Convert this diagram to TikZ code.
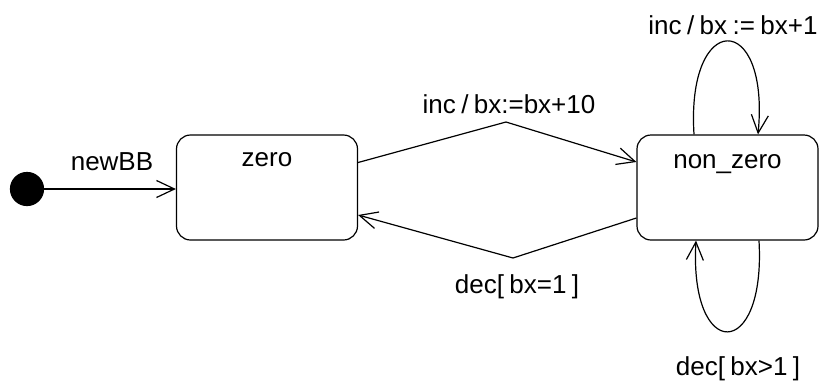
\documentclass[tikz,border=0pt]{standalone}
\usepackage{fontspec}
\setmainfont[WordSpace=0.75]{Liberation Sans}
\usetikzlibrary{arrows.meta,calc}
\begin{document}
\begin{tikzpicture}[x=1pt,y=-1pt,
  line width=1.2pt,
  state/.style={draw,rounded corners=14pt,minimum width=181pt,minimum height=105pt,inner sep=0pt},
  lbl/.style={font=\fontsize{26}{30}\selectfont,anchor=base,inner sep=0pt},
  arr/.style={-{Straight Barb[length=18pt,width=17pt,line width=1.2pt]}}]
\useasboundingbox (0,0) rectangle (820,381);
\node[draw,fill=black,circle,minimum size=33pt,inner sep=0pt] (init) at (27,189) {};
\node[state] (zero) at (267,187.5) {};
\node[state] (nz) at (727.5,187.5) {};
\node[lbl] (tzero) at (267,166) {zero};
\node[lbl] (tnz) at (727.5,168) {non\_zero};
\coordinate (up) at (506,122);
\coordinate (dn) at (513,258);
\draw[arr] (init) -- (zero.west |- init);
\draw[arr] ([yshift=25pt]zero.east) -- (up) -- ([yshift=25.5pt]nz.west);
\draw[arr] ([yshift=-30.5pt]nz.west) -- (dn) -- ([yshift=-27.5pt]zero.east);
\draw[arr] ([xshift=-33.5pt]nz.north) .. controls (686,10) and (770,10) .. ([xshift=30.5pt]nz.north);
\draw[arr] ([xshift=31.5pt]nz.south) .. controls (766,362) and (689,362) .. ([xshift=-31.5pt]nz.south);
\node[lbl] (lnew) at (112,170) {newBB};
\node[lbl] (linc10) at (509,113) {inc / bx:=bx+10};
\node[lbl] (ldec1) at (517,293) {dec[ bx=1 ]};
\node[lbl] (linc1) at (733,34) {inc / bx := bx+1};
\node[lbl] (ldec2) at (738,375) {dec[ bx>1 ]};
\end{tikzpicture}
\end{document}
